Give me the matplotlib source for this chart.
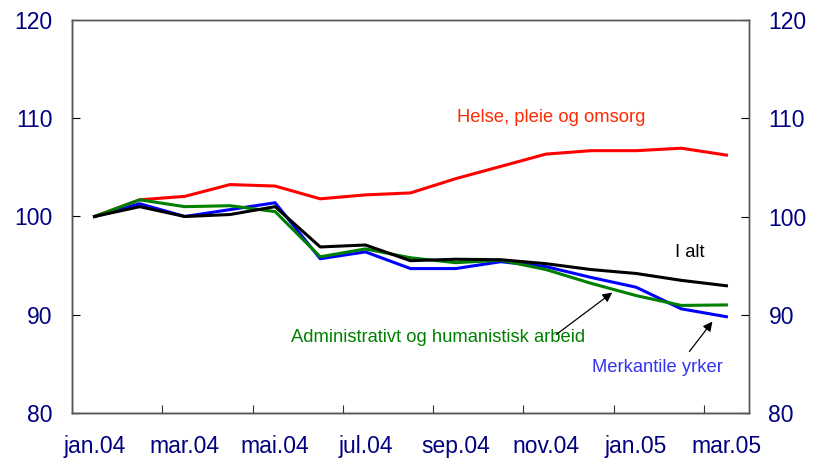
import matplotlib
matplotlib.use("Agg")
import matplotlib.pyplot as plt
import numpy as np

months = ["jan.04", "feb.04", "mar.04", "apr.04", "mai.04", "jun.04", "jul.04", "aug.04",
          "sep.04", "okt.04", "nov.04", "des.04", "jan.05", "feb.05", "mar.05"]
helse = [100.0, 101.7, 102.05, 103.25, 103.1, 101.8, 102.2, 102.4, 103.85, 105.1, 106.35, 106.7, 106.7, 106.95, 106.25]
i_alt = [100.0, 101.0, 100.0, 100.2, 101.0, 96.9, 97.1, 95.5, 95.65, 95.6, 95.2, 94.6, 94.2, 93.5, 92.95]
admin = [100.0, 101.7, 101.0, 101.1, 100.5, 95.9, 96.7, 95.8, 95.3, 95.55, 94.6, 93.2, 91.95, 90.95, 91.0]
merk = [100.0, 101.3, 100.0, 100.7, 101.4, 95.7, 96.4, 94.7, 94.7, 95.4, 94.9, 93.8, 92.8, 90.6, 89.8]
yticks = [80, 90, 100, 110, 120]

plt.rcParams['font.family'] = ['Liberation Sans', 'DejaVu Sans']

fig = plt.figure(figsize=(8.17, 4.65), dpi=100)
ax = fig.add_axes([72/817, 1-413/465, (749-72)/817, (413-20)/465])

x = np.arange(len(months))
ax.plot(x, helse, color='#FF0000', lw=2.2, zorder=3)
ax.plot(x, merk, color='#0000FF', lw=2.2, zorder=3)
ax.plot(x, admin, color='#008000', lw=2.2, zorder=3)
ax.plot(x, i_alt, color='#000000', lw=2.2, zorder=4)

ax.set_xlim(-0.5, len(months) - 0.5)
ax.set_ylim(80, 120)
ax.set_yticks(yticks)
ax.set_yticklabels([str(v) for v in yticks])

# ticks between categories every 2 months, labels at category centres
ax.set_xticks(np.arange(-0.5, len(months), 2)[1:])
ax.set_xticklabels([])
ax.set_xticks(x[::2], minor=True)
ax.set_xticklabels(months[::2], minor=True)
ax.tick_params(axis='x', which='major', direction='in', length=6, width=0.8, color='#333333')
ax.tick_params(axis='x', which='minor', length=0, pad=16, labelsize=16.5, labelcolor='#000080')
ax.tick_params(axis='y', direction='in', length=6, width=0.8, labelsize=16.5,
               labelcolor='#000080', pad=14, right=True)

ax2 = ax.twinx()
ax2.set_ylim(80, 120)
ax2.set_yticks(yticks)
ax2.set_yticklabels([str(v) for v in yticks])
ax2.tick_params(axis='y', direction='in', length=6, width=0.8, labelsize=16.5,
                labelcolor='#000080', pad=14)

for a in (ax, ax2):
    for s in a.spines.values():
        s.set_color('#555555')
        s.set_linewidth(1.0)
ax.spines['left'].set_color('#000000')
ax.spines['bottom'].set_color('#000000')

ax.text(10.12, 110.08, "Helse, pleie og omsorg", color='#FF2A00', fontsize=13.2,
        ha='center', va='center')
ax.text(13.18, 96.34, "I alt", color='#000000', fontsize=13.2, ha='center', va='center')
ax.text(7.6, 87.68, "Administrativt og humanistisk arbeid", color='#008000', fontsize=13.2,
        ha='center', va='center')
ax.text(12.47, 84.6, "Merkantile yrker", color='#3333EE', fontsize=13.2,
        ha='center', va='center')

arrowprops = dict(arrowstyle='-|>', color='black', lw=0.9, mutation_scale=14, shrinkA=0, shrinkB=0)
ax.annotate("", xy=(11.47, 92.26), xytext=(10.23, 87.99), arrowprops=arrowprops)
ax.annotate("", xy=(13.69, 89.31), xytext=(13.18, 86.26), arrowprops=arrowprops)

fig.savefig("out.png", dpi=100)
